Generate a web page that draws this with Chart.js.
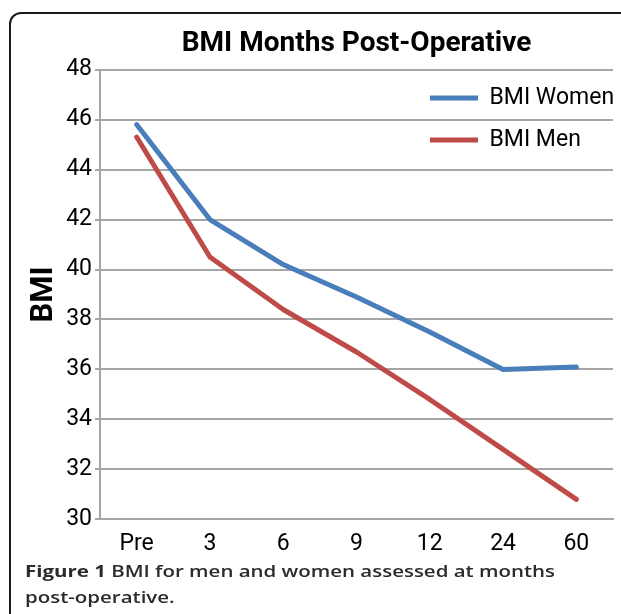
<!DOCTYPE html>
<html>
<head>
<meta charset="utf-8">
<script src="https://cdn.jsdelivr.net/npm/chart.js@4.4.0/dist/chart.umd.js"></script>
<style>
  html, body { margin: 0; padding: 0; background: #fff; }
  body { width: 621px; height: 614px; position: relative; overflow: hidden; }
  .frame {
    position: absolute; left: 9px; top: 12px; width: 660px; height: 660px;
    border: 2px solid #1a1a1a; border-top-left-radius: 12px; box-sizing: border-box;
  }
  .chart-wrap { position: absolute; left: 0; top: 0; width: 621px; height: 561px; }
  .caption {
    position: absolute; left: 25px; top: 558px; white-space: nowrap;
    font-family: 'Open Sans', sans-serif; font-size: 16px; font-weight: 600;
    line-height: 26px; color: #2b2b2b; transform-origin: 0 0;
  }
  .caption b { font-weight: 700; }
</style>
</head>
<body>
<div class="frame"></div>
<div class="chart-wrap"><canvas id="bmi-chart"></canvas></div>
<div class="caption" id="caption"><span id="cap-line1"><b>Figure 1</b> BMI for men and women assessed at months</span><br>post-operative.</div>

<script>
const months = ['Pre', '3', '6', '9', '12', '24', '60'];
const bmiWomen = [45.8, 42.0, 40.2, 38.9, 37.5, 36.0, 36.1];
const bmiMen = [45.3, 40.5, 38.4, 36.7, 34.8, 32.8, 30.8];
const yMin = 30, yMax = 48, yStep = 2;

const sans = "Roboto, 'Liberation Sans', sans-serif";

// caption is set in a wider face in the figure: stretch to the same width
const line1 = document.getElementById('cap-line1');
const k = 530 / line1.getBoundingClientRect().width;
document.getElementById('caption').style.transform = `scaleX(${k})`;

// legend sits inside the plot, top right
const legendInPlot = {
    id: 'legendInPlot',
    afterLayout(chart) {
        const lg = chart.legend, area = chart.chartArea;
        const w = lg.width, h = lg.height;
        lg.left = area.right - 202;
        lg.right = lg.left + w;
        lg.top = area.top - 2;
        lg.bottom = lg.top + h;
    },
};

new Chart(document.getElementById('bmi-chart'), {
    type: 'line',
    data: {
        labels: months,
        datasets: [
            {
                label: 'BMI Women', data: bmiWomen,
                borderColor: '#4a7ebb', backgroundColor: '#4a7ebb', borderWidth: 5,
                pointRadius: 0, pointHoverRadius: 0, pointBorderWidth: 5,
                borderCapStyle: 'round', borderJoinStyle: 'round', tension: 0,
            },
            {
                label: 'BMI Men', data: bmiMen,
                borderColor: '#be4b48', backgroundColor: '#be4b48', borderWidth: 5,
                pointRadius: 0, pointHoverRadius: 0, pointBorderWidth: 5,
                borderCapStyle: 'round', borderJoinStyle: 'round', tension: 0,
            },
        ],
    },
    plugins: [legendInPlot],
    options: {
        responsive: true, maintainAspectRatio: false, animation: false,
        layout: { padding: { left: 26, right: 8, top: 0, bottom: 0 } },
        plugins: {
            title: {
                display: true, fullSize: false, text: 'BMI Months Post-Operative', color: '#000',
                font: { family: sans, size: 28, weight: 'bold' },
                padding: { top: 27, bottom: 9 },
            },
            legend: {
                position: 'chartArea', align: 'start',
                labels: {
                    usePointStyle: true, pointStyle: 'line', pointStyleWidth: 48,
                    color: '#000', padding: 19,
                    font: { family: sans, size: 23 },
                },
            },
            tooltip: { enabled: false },
        },
        scales: {
            x: {
                offset: true,
                grid: { display: false },
                border: { color: '#a6a6a6', width: 2 },
                ticks: { color: '#000', padding: 3, font: { family: sans, size: 23 } },
            },
            y: {
                min: yMin, max: yMax,
                afterFit: (scale) => { scale.width = 74; },
                title: {
                    display: true, text: 'BMI', color: '#000',
                    font: { family: sans, size: 31, weight: 'bold' },
                    padding: { top: 0, bottom: 0 },
                },
                grid: { color: '#a6a6a6', lineWidth: 2, tickLength: 5 },
                border: { color: '#a6a6a6', width: 2 },
                ticks: { stepSize: yStep, color: '#000', padding: 3, font: { family: sans, size: 23 } },
            },
        },
    },
});
</script>
</body>
</html>
